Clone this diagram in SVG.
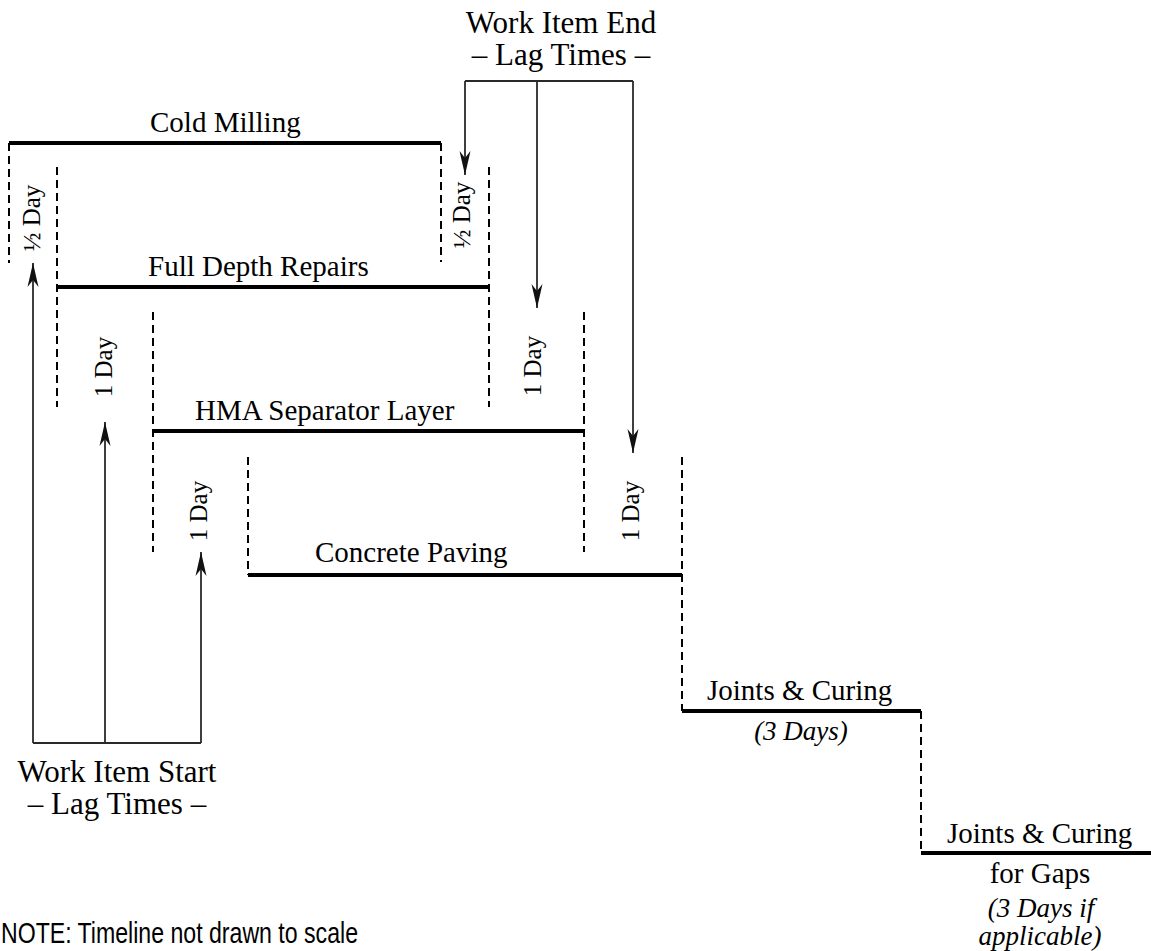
<svg xmlns="http://www.w3.org/2000/svg" width="1151" height="951" viewBox="0 0 1151 951">
<style>
.bar{stroke:#000;stroke-width:4;fill:none}
.dash{stroke:#000;stroke-width:2;stroke-dasharray:8 5;fill:none}
.conn{stroke:#2a2a2a;stroke-width:1.8;fill:none}
.lbl{font-family:"Liberation Serif","Times New Roman",serif;font-size:29px;fill:#000}
.big{font-family:"Liberation Serif","Times New Roman",serif;font-size:31px;fill:#000;text-anchor:middle}
.it{font-family:"Liberation Serif","Times New Roman",serif;font-size:27px;font-style:italic;fill:#000;text-anchor:middle}
.rot{font-family:"Liberation Serif","Times New Roman",serif;font-size:25px;fill:#000;text-anchor:middle}
.note{font-family:"Liberation Sans",Arial,sans-serif;font-size:29px;fill:#000}
</style>
<defs>
<marker id="ah" markerUnits="userSpaceOnUse" markerWidth="30" markerHeight="14" viewBox="-25 -7 27 14" refX="0" refY="0" orient="auto">
<path d="M0,0 L-24,-5.5 L-17,0 L-24,5.5 Z" fill="#111"/>
</marker>
</defs>
<rect width="1151" height="951" fill="#fff"/>

<g id="cold-milling">
<line class="bar" x1="9" y1="143" x2="441" y2="143"/>
<line class="dash" x1="9" y1="143" x2="9" y2="263"/>
<line class="dash" x1="441" y1="143" x2="441" y2="262"/>
<text class="lbl" x="150" y="132">Cold Milling</text>
</g>

<g id="full-depth-repairs">
<line class="bar" x1="57" y1="287" x2="489" y2="287"/>
<line class="dash" x1="57" y1="167" x2="57" y2="407"/>
<line class="dash" x1="489" y1="167" x2="489" y2="407"/>
<text class="lbl" x="148" y="276">Full Depth Repairs</text>
</g>

<g id="hma-separator-layer">
<line class="bar" x1="153" y1="431" x2="584" y2="431"/>
<line class="dash" x1="153" y1="312" x2="153" y2="552"/>
<line class="dash" x1="584" y1="312" x2="584" y2="552"/>
<text class="lbl" x="195" y="420">HMA Separator Layer</text>
</g>

<g id="concrete-paving">
<line class="bar" x1="248" y1="575" x2="682" y2="575"/>
<line class="dash" x1="248" y1="457" x2="248" y2="575"/>
<line class="dash" x1="682" y1="457" x2="682" y2="711"/>
<text class="lbl" x="315" y="562">Concrete Paving</text>
</g>

<g id="joints-curing">
<line class="bar" x1="682" y1="711" x2="921" y2="711"/>
<line class="dash" x1="921" y1="711" x2="921" y2="853"/>
<text class="lbl" x="707" y="700">Joints &amp; Curing</text>
<text class="it" x="801" y="740">(3 Days)</text>
</g>

<g id="joints-curing-gaps">
<line class="bar" x1="921" y1="853" x2="1151" y2="853"/>
<text class="lbl" x="947" y="843">Joints &amp; Curing</text>
<text class="lbl" x="1040" y="883" text-anchor="middle">for Gaps</text>
<text class="it" x="1041" y="917">(3 Days if</text>
<text class="it" x="1040" y="945">applicable)</text>
</g>

<g id="lag-labels">
<text class="rot" transform="translate(40,218) rotate(-90)">½ Day</text>
<text class="rot" transform="translate(470,215) rotate(-90)">½ Day</text>
<text class="rot" transform="translate(112,367) rotate(-90)">1 Day</text>
<text class="rot" transform="translate(207,511) rotate(-90)">1 Day</text>
<text class="rot" transform="translate(541,366) rotate(-90)">1 Day</text>
<text class="rot" transform="translate(639,511) rotate(-90)">1 Day</text>
</g>

<g id="work-item-start">
<text class="big" x="117" y="782">Work Item Start</text>
<text class="big" x="117" y="814">– Lag Times –</text>
</g>

<g id="work-item-end">
<text class="big" x="561" y="33">Work Item End</text>
<text class="big" x="561" y="65">– Lag Times –</text>
</g>

<g id="connectors">
<line class="conn" x1="33" y1="743" x2="201" y2="743"/>
<line class="conn" x1="33" y1="743" x2="33" y2="263" marker-end="url(#ah)"/>
<line class="conn" x1="105" y1="743" x2="105" y2="422" marker-end="url(#ah)"/>
<line class="conn" x1="201" y1="743" x2="201" y2="552" marker-end="url(#ah)"/>
<line class="conn" x1="465" y1="81" x2="633" y2="81"/>
<line class="conn" x1="465" y1="81" x2="465" y2="175" marker-end="url(#ah)"/>
<line class="conn" x1="537" y1="81" x2="537" y2="308" marker-end="url(#ah)"/>
<line class="conn" x1="633" y1="81" x2="633" y2="453" marker-end="url(#ah)"/>
</g>

<text class="note" x="1" y="943" textLength="357" lengthAdjust="spacingAndGlyphs">NOTE: Timeline not drawn to scale</text>
</svg>
